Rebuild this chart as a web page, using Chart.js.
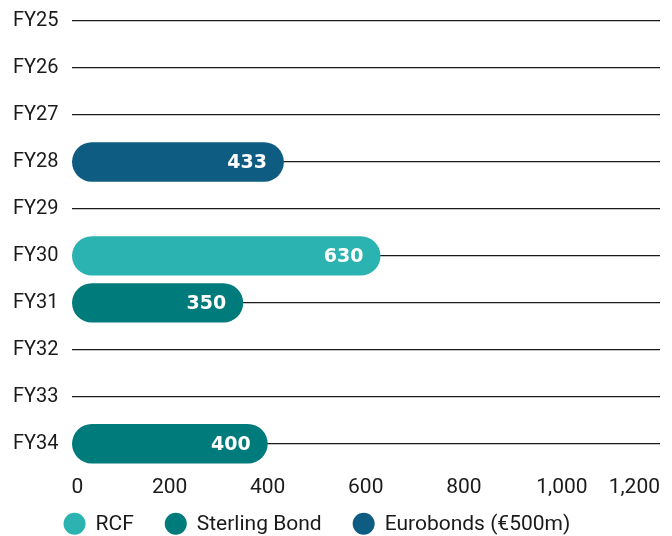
<!DOCTYPE html>
<html>
<head>
<meta charset="utf-8">
<script src="https://cdn.jsdelivr.net/npm/chart.js@4.4.1/dist/chart.umd.min.js"></script>
<style>
  html, body { margin: 0; padding: 0; background: #fff; }
  #wrap { width: 672px; height: 536px; position: relative; }
</style>
</head>
<body>
<div id="wrap"><canvas id="debtChart"></canvas></div>
<script>
const years = ['FY25', 'FY26', 'FY27', 'FY28', 'FY29', 'FY30', 'FY31', 'FY32', 'FY33', 'FY34'];
const rcf = [null, null, null, null, null, 630, null, null, null, null];
const sterlingBond = [null, null, null, null, null, null, 350, null, null, 400];
const eurobonds = [null, null, null, 433, null, null, null, null, null, null];
const xTicks = [0, 200, 400, 600, 800, 1000, 1200];

const textColor = '#1a1a1a';

// white value labels, right aligned inside the end of each bar
const barLabels = {
  id: 'barLabels',
  afterDatasetsDraw(chart) {
    const ctx = chart.ctx;
    ctx.save();
    ctx.font = 'bold 19px "DejaVu Sans"';
    ctx.fillStyle = '#ffffff';
    ctx.textAlign = 'right';
    ctx.textBaseline = 'middle';
    chart.data.datasets.forEach((ds, i) => {
      chart.getDatasetMeta(i).data.forEach((bar, j) => {
        if (ds.data[j] == null) return;
        ctx.fillText(ds.data[j], bar.x - 17, bar.y + 1);
      });
    });
    ctx.restore();
  }
};

// legend row with round markers, drawn under the axis
const legendRow = {
  id: 'legendRow',
  afterDraw(chart) {
    const ctx = chart.ctx;
    const area = chart.chartArea;
    let x = area.left + 3;
    const y = area.bottom + 80;
    ctx.save();
    ctx.font = '21px Roboto';
    ctx.textBaseline = 'middle';
    ctx.textAlign = 'left';
    chart.data.datasets.forEach(ds => {
      ctx.fillStyle = ds.backgroundColor;
      ctx.beginPath();
      ctx.arc(x, y, 11, 0, Math.PI * 2);
      ctx.fill();
      ctx.fillStyle = textColor;
      ctx.fillText(ds.label, x + 21, y + 1);
      x += 21 + ctx.measureText(ds.label).width + 42;
    });
    ctx.restore();
  }
};

const barStyle = {
  borderRadius: 20,
  borderSkipped: false,
  barPercentage: 0.84,
  categoryPercentage: 1,
  clip: false
};

new Chart(document.getElementById('debtChart'), {
  type: 'bar',
  data: {
    labels: years,
    datasets: [
      Object.assign({ label: 'RCF', data: rcf, backgroundColor: '#2bb3b1' }, barStyle),
      Object.assign({ label: 'Sterling Bond', data: sterlingBond, backgroundColor: '#007b7b' }, barStyle),
      Object.assign({ label: 'Eurobonds (€500m)', data: eurobonds, backgroundColor: '#0f5c83' }, barStyle)
    ]
  },
  options: {
    indexAxis: 'y',
    responsive: true,
    maintainAspectRatio: false,
    animation: false,
    layout: { padding: { top: 21, right: 12, left: 13, bottom: 36 } },
    scales: {
      x: {
        stacked: true,
        min: 0,
        max: 1200,
        afterBuildTicks: (axis) => { axis.ticks = xTicks.map(v => ({ value: v })); },
        grid: { color: 'rgba(0,0,0,0)', drawTicks: true, tickLength: 31, tickColor: 'rgba(0,0,0,0)' },
        border: { display: false },
        ticks: {
          align: 'inner',
          padding: 0,
          color: textColor,
          font: { family: 'Roboto', size: 21 },
          callback: (v) => v.toLocaleString('en-GB')
        }
      },
      y: {
        stacked: true,
        offset: false,
        grid: { offset: false, color: textColor, lineWidth: 1.3, drawTicks: true, tickLength: 13, tickColor: 'rgba(0,0,0,0)' },
        border: { display: false },
        ticks: {
          padding: 0,
          color: textColor,
          font: { family: 'Roboto', size: 20 }
        }
      }
    },
    plugins: {
      tooltip: { enabled: false },
      legend: { display: false }
    }
  },
  plugins: [barLabels, legendRow]
});
</script>
</body>
</html>
